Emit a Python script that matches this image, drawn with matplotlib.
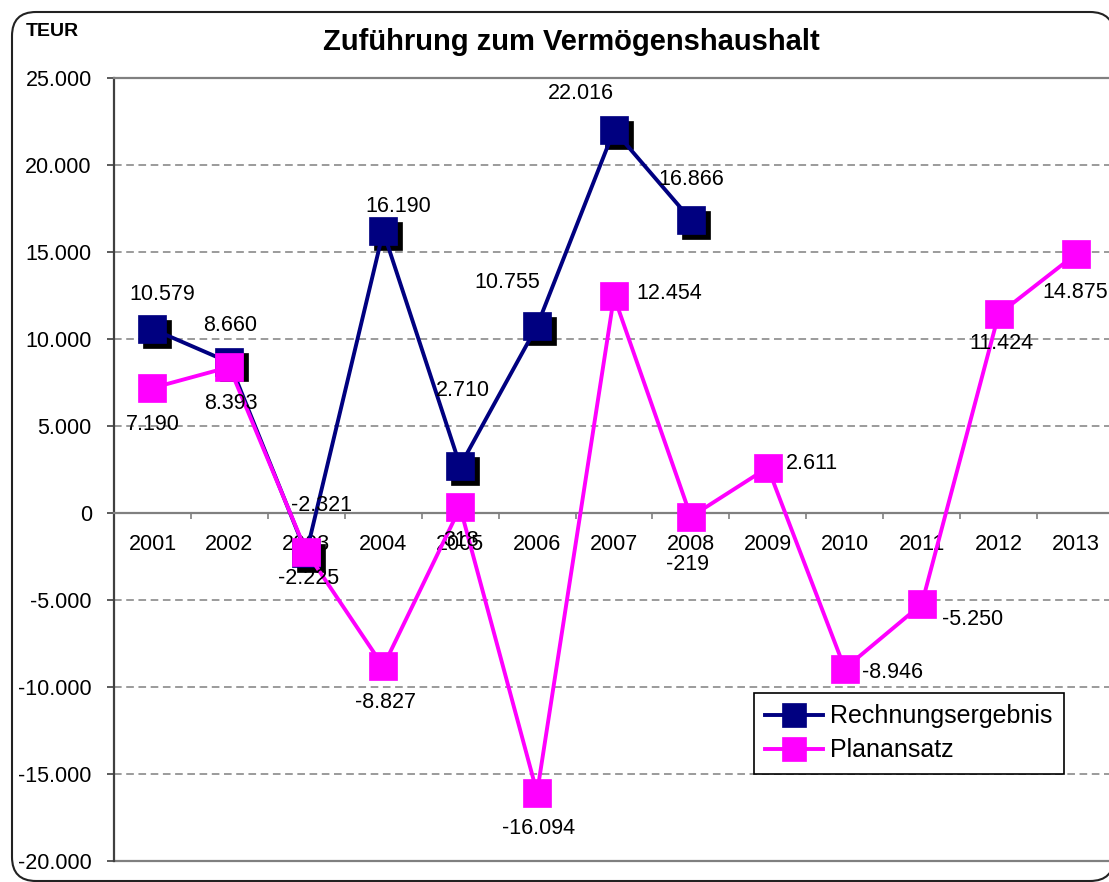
import numpy as np
import matplotlib.pyplot as plt
from matplotlib.patches import FancyBboxPatch
from matplotlib.transforms import offset_copy, IdentityTransform

plt.rcParams['font.family'] = ['Liberation Sans', 'DejaVu Sans']

years = ['2001', '2002', '2003', '2004', '2005', '2006', '2007',
         '2008', '2009', '2010', '2011', '2012', '2013']
rechnung = [10579, 8660, -2321, 16190, 2710, 10755, 22016, 16866]
plan = [7190, 8393, -2225, -8827, 318, -16094, 12454, -219,
        2611, -8946, -5250, 11424, 14875]
yticks = list(range(-20000, 25001, 5000))

# where each data label sits relative to its point (pixels, y up)
rechnung_off = [(10, 35), (1, 37), (15, 48), (15, 25), (3, 75),
                (-30, 43), (-33, 37), (0, 40)]
plan_off = [(0, -37), (1, -36), (2, -27), (2, -36), (1, -33), (1, -36),
            (55, 3), (-3, -48), (44, 4), (48, -4), (51, -15), (3, -29),
            (0, -38)]

navy = '#000080'
pink = '#FF00FF'


def fmt(v):
    return f"{v:,}".replace(",", ".")


fig = plt.figure(figsize=(11.09, 8.82), dpi=100)

# rounded chart frame (filled so agg does not clip the curves oddly)
frame = FancyBboxPatch((12, 1), 1102, 869,
                       boxstyle='round,pad=0,rounding_size=24',
                       transform=IdentityTransform(), facecolor='white',
                       edgecolor='#222222', lw=1.5, zorder=-1)
fig.add_artist(frame)

ax = fig.add_axes([114/1109, 21.3/882, 1000/1109, 782.4/882])
ax.patch.set_visible(False)

# grid
for v in yticks[1:-1]:
    if v != 0:
        ax.axhline(v, color='#808080', lw=1.1, ls=(0, (5, 3)), zorder=1)
ax.axhline(-20000, color='#808080', lw=1.6, clip_on=False, zorder=1)

x_r = np.arange(len(rechnung))
x_p = np.arange(len(plan))

shadow = offset_copy(ax.transData, fig=fig, x=5, y=-5, units='dots')
ax.plot(x_r, rechnung, ls='none', marker='s', ms=19.5, mfc='black',
        mec='black', mew=0.5, transform=shadow, zorder=3)
ax.plot(x_r, rechnung, color=navy, lw=2.8, marker='s', ms=19.5, mfc=navy,
        mec=navy, mew=0.5, zorder=4, label='Rechnungsergebnis')
ax.plot(x_p, plan, color=pink, lw=2.8, marker='s', ms=19.5, mfc=pink,
        mec=pink, mew=0.5, zorder=5, label='Planansatz')

for i, v in enumerate(rechnung):
    ax.annotate(fmt(v), (x_r[i], v), xytext=rechnung_off[i],
                textcoords='offset pixels', ha='center', va='center',
                fontsize=15.5, zorder=6)
for i, v in enumerate(plan):
    ax.annotate(fmt(v), (x_p[i], v), xytext=plan_off[i],
                textcoords='offset pixels', ha='center', va='center',
                fontsize=15.5, zorder=6)

ax.set_xlim(-0.5, 12.5)
ax.set_ylim(-20000, 25000)
ax.set_xticks(x_p, years)
ax.set_xticks(np.arange(0.5, 12.5, 1), minor=True)
ax.tick_params(axis='x', which='major', length=0, pad=15, labelsize=15.5)
ax.tick_params(axis='x', which='minor', length=4, width=1.2,
               color='#808080', direction='out')
ax.set_yticks(yticks, [fmt(v) for v in yticks])
ax.tick_params(axis='y', length=5, width=1.2, color='#404040', pad=11,
               labelsize=15.5)

ax.spines['right'].set_visible(False)
ax.spines['top'].set_color('#808080')
ax.spines['top'].set_linewidth(1.6)
ax.spines['left'].set_color('#404040')
ax.spines['left'].set_linewidth(1.6)
ax.spines['bottom'].set_position(('data', 0))
ax.spines['bottom'].set_color('#808080')
ax.spines['bottom'].set_linewidth(1.6)

leg = ax.legend(loc='upper left', bbox_to_anchor=(754/1109, 1 - 693/882),
                bbox_transform=fig.transFigure, fontsize=18, frameon=True,
                fancybox=False, edgecolor='black', framealpha=1,
                handlelength=2.3, handletextpad=0.3, labelspacing=0.4,
                borderpad=0.45, borderaxespad=0, markerscale=0.9)
leg.get_frame().set_linewidth(1.2)

fig.text(571/1109, 1 - 42/882, 'Zuführung zum Vermögenshaushalt',
         ha='center', va='center', fontsize=21, fontweight='bold')
fig.text(26/1109, 1 - 31/882, 'TEUR', ha='left', va='center',
         fontsize=14, fontweight='bold')

fig.savefig('out.png', dpi=100)
